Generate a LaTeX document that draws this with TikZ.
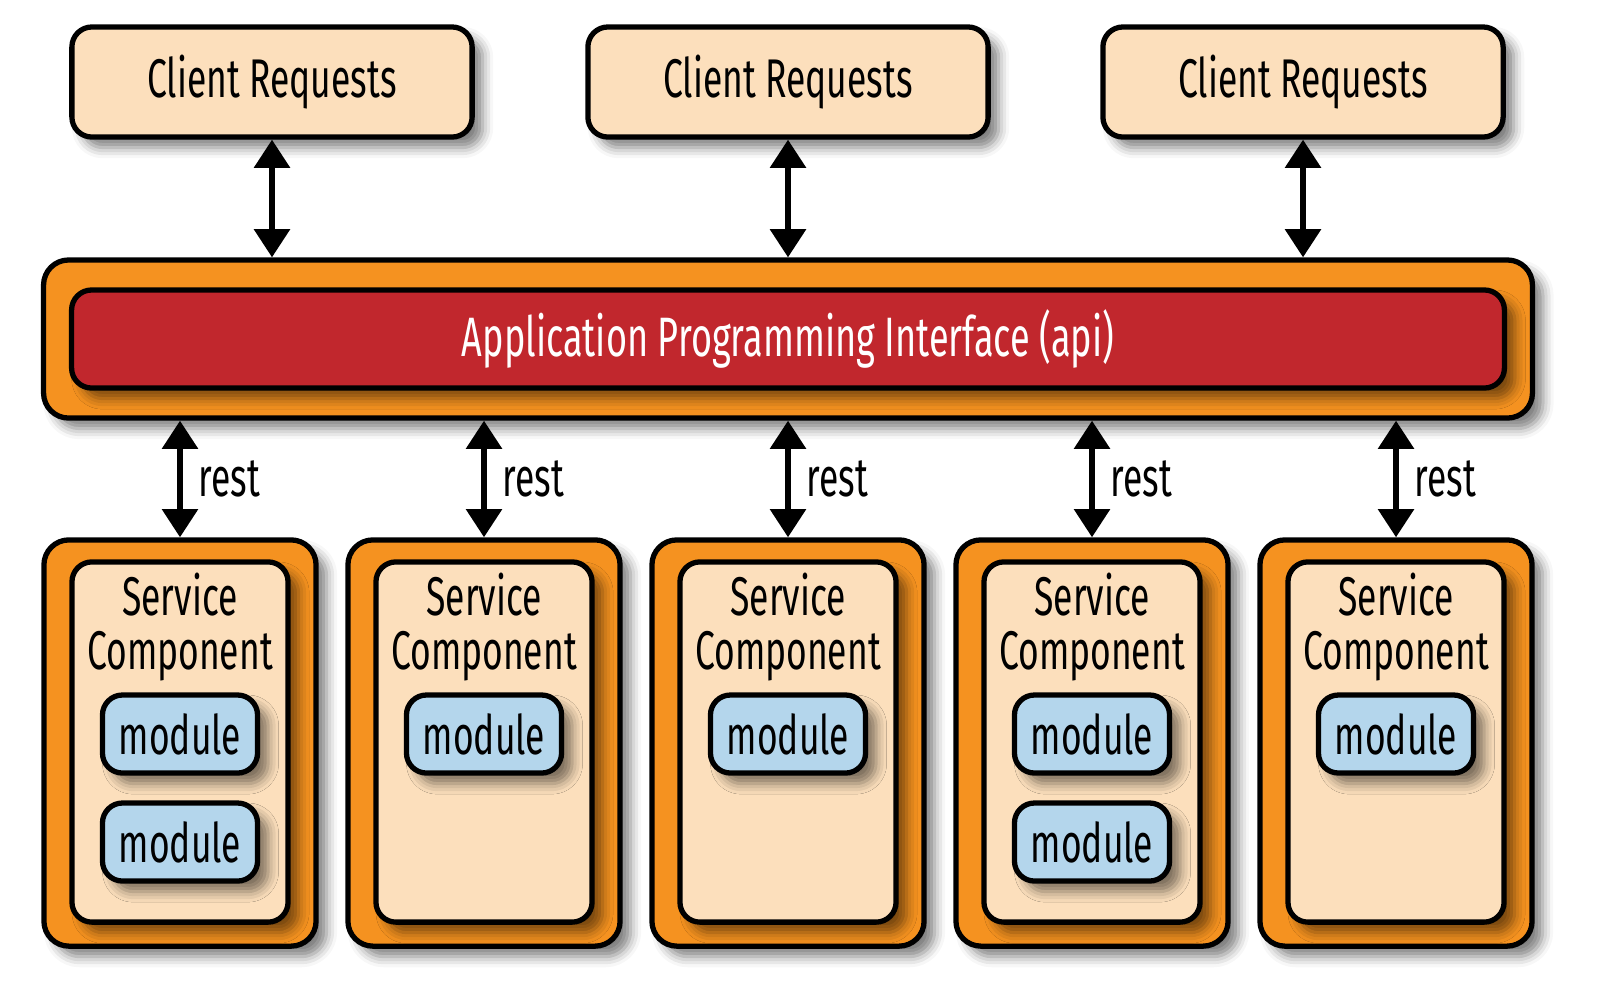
\documentclass[tikz,border=0pt]{standalone}
\usepackage{fontspec}
\setmainfont{Fira Sans}[FakeStretch=0.65]
\usepackage{tikz}
\usetikzlibrary{arrows.meta,shadows.blur}
\definecolor{box_orange}{RGB}{245,146,32}
\definecolor{box_beige}{RGB}{252,223,188}
\definecolor{box_red}{RGB}{193,39,45}
\definecolor{box_blue}{RGB}{180,214,236}

\begin{document}
\begin{tikzpicture}[x=0.01cm,y=-0.01cm,line width=1.5pt,>={Triangle[width=10pt,length=8pt]}]
    \tikzstyle{box}=[draw=black, inner sep=0pt, rounded corners=0.2cm, font=\fontsize{15.5}{19}\selectfont,
                     blur shadow={shadow xshift=3pt, shadow yshift=-3pt, shadow blur radius=3pt, shadow opacity=50}]
    \tikzstyle{client}=[style=box, fill=box_beige, minimum width=4cm, minimum height=1.1cm]
    \tikzstyle{outer}=[style=box, fill=box_orange, rounded corners=0.25cm]
    \tikzstyle{svc}=[style=box, fill=box_beige, minimum width=2.16cm, minimum height=3.6cm]
    \tikzstyle{mod}=[style=box, fill=box_blue, minimum width=1.55cm, minimum height=0.78cm]
    \tikzstyle{txt}=[inner sep=0pt, align=center, font=\fontsize{15.5}{15.3}\selectfont]

    \useasboundingbox (0,0) rectangle (1601,1005);

    \node[client] (c1) at (272,82)  {Client Requests};
    \node[client] (c2) at (788,82)  {Client Requests};
    \node[client] (c3) at (1303,82) {Client Requests};

    \node[outer, minimum width=14.88cm, minimum height=1.58cm] (apibg) at (788,339) {};
    \node[box, fill=box_red, text=white, minimum width=14.32cm, minimum height=0.98cm,
          font=\fontsize{15.8}{19}\selectfont] (api) at (788,339)
        {Application Programming Interface (api)};

    \node[outer, minimum width=2.72cm, minimum height=4.06cm] (s1) at (180,743)  {};
    \node[outer, minimum width=2.72cm, minimum height=4.06cm] (s2) at (484,743)  {};
    \node[outer, minimum width=2.72cm, minimum height=4.06cm] (s3) at (788,743)  {};
    \node[outer, minimum width=2.72cm, minimum height=4.06cm] (s4) at (1092,743) {};
    \node[outer, minimum width=2.72cm, minimum height=4.06cm] (s5) at (1396,743) {};

    \node[svc] (in1) at (180,742)  {};
    \node[svc] (in2) at (484,742)  {};
    \node[svc] (in3) at (788,742)  {};
    \node[svc] (in4) at (1092,742) {};
    \node[svc] (in5) at (1396,742) {};

    \node[txt] (t1) at (180,627)  {Service\\Component};
    \node[txt] (t2) at (484,627)  {Service\\Component};
    \node[txt] (t3) at (788,627)  {Service\\Component};
    \node[txt] (t4) at (1092,627) {Service\\Component};
    \node[txt] (t5) at (1396,627) {Service\\Component};

    \node[mod] (m1a) at (180,734)  {module};
    \node[mod] (m1b) at (180,842)  {module};
    \node[mod] (m2a) at (484,734)  {module};
    \node[mod] (m3a) at (788,734)  {module};
    \node[mod] (m4a) at (1092,734) {module};
    \node[mod] (m4b) at (1092,842) {module};
    \node[mod] (m5a) at (1396,734) {module};

    \path[<->]
     (c1.south) edge (c1.south |- apibg.north)
     (c2.south) edge (c2.south |- apibg.north)
     (c3.south) edge (c3.south |- apibg.north)
     (s1.north |- apibg.south) edge node[txt, right=0.16cm] {rest} (s1.north)
     (s2.north |- apibg.south) edge node[txt, right=0.16cm] {rest} (s2.north)
     (s3.north |- apibg.south) edge node[txt, right=0.16cm] {rest} (s3.north)
     (s4.north |- apibg.south) edge node[txt, right=0.16cm] {rest} (s4.north)
     (s5.north |- apibg.south) edge node[txt, right=0.16cm] {rest} (s5.north)
     ;
\end{tikzpicture}
\end{document}
